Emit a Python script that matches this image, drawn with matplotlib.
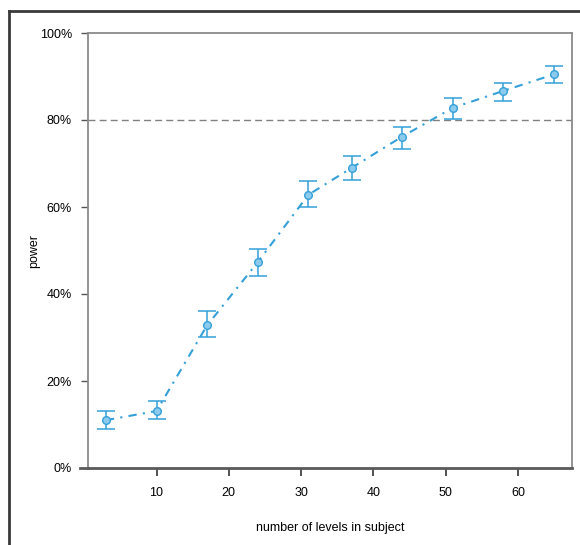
import matplotlib
matplotlib.use("Agg")
import matplotlib.pyplot as plt
from matplotlib.lines import Line2D
from matplotlib.ticker import FuncFormatter

plt.rcParams['font.family'] = ['Liberation Sans', 'DejaVu Sans']

# simulated power by number of levels
levels = [3, 10, 17, 24, 31, 37, 44, 51, 58, 65]
power = [0.110, 0.131, 0.328, 0.473, 0.628, 0.690, 0.762, 0.828, 0.867, 0.905]
lower = [0.090, 0.112, 0.301, 0.441, 0.599, 0.662, 0.734, 0.802, 0.844, 0.885]
upper = [0.130, 0.153, 0.360, 0.503, 0.659, 0.717, 0.785, 0.850, 0.885, 0.923]
target = 0.8

blue = '#34a0d8'

fig = plt.figure(figsize=(5.8, 5.45), dpi=100)
ax = fig.add_axes([88/580, 1-468/545, 484/580, 435/545])

ax.axhline(target, color='#808080', lw=1.0, ls=(0, (5, 3)), zorder=1)

yerr = [[p - l for p, l in zip(power, lower)], [u - p for p, u in zip(power, upper)]]
ax.errorbar(levels, power, yerr=yerr, fmt='none', ecolor=blue, elinewidth=1.1,
            capsize=6.5, capthick=1.1, zorder=2)
ax.plot(levels, power, color=blue, lw=1.5, ls=(0, (4, 3, 1, 3)), zorder=3)
ax.plot(levels, power, 'o', ms=5.5, mfc='#8ccbed', mec=blue, mew=1.0, zorder=4, ls='none')

ax.set_xlim(0.52, 67.48)
ax.set_ylim(0, 1)
ax.set_xticks([10, 20, 30, 40, 50, 60])
ax.set_yticks([0, 0.2, 0.4, 0.6, 0.8, 1.0])
ax.yaxis.set_major_formatter(FuncFormatter(lambda v, _: '%d%%' % round(v * 100)))

for s in ['left', 'top', 'right']:
    ax.spines[s].set_color('#8a8a8a')
    ax.spines[s].set_linewidth(1.3)
ax.spines['bottom'].set_color('#5a5a5a')
ax.spines['bottom'].set_linewidth(2.0)
# bottom axis line runs a bit left of the box
ax.add_line(Line2D([-8/484, 0], [0, 0], transform=ax.transAxes, color='#5a5a5a',
                   lw=2.0, clip_on=False))

ax.tick_params(axis='y', length=5, width=1, color='#555555', pad=6.5, labelsize=9)
ax.tick_params(axis='x', length=6, width=1.2, color='#333333', pad=8, labelsize=9)

ax.set_xlabel('number of levels in subject', fontsize=9, labelpad=16)
ax.set_ylabel('power', fontsize=9, labelpad=0)

# outer frame
fig.add_artist(Line2D([9/580, 1], [1-10.5/545, 1-10.5/545], transform=fig.transFigure,
                      color='#3a3a3a', lw=2.0))
fig.add_artist(Line2D([9/580, 9/580], [0, 1-10.5/545], transform=fig.transFigure,
                      color='#3a3a3a', lw=2.0))

fig.savefig('out.png', dpi=100)
